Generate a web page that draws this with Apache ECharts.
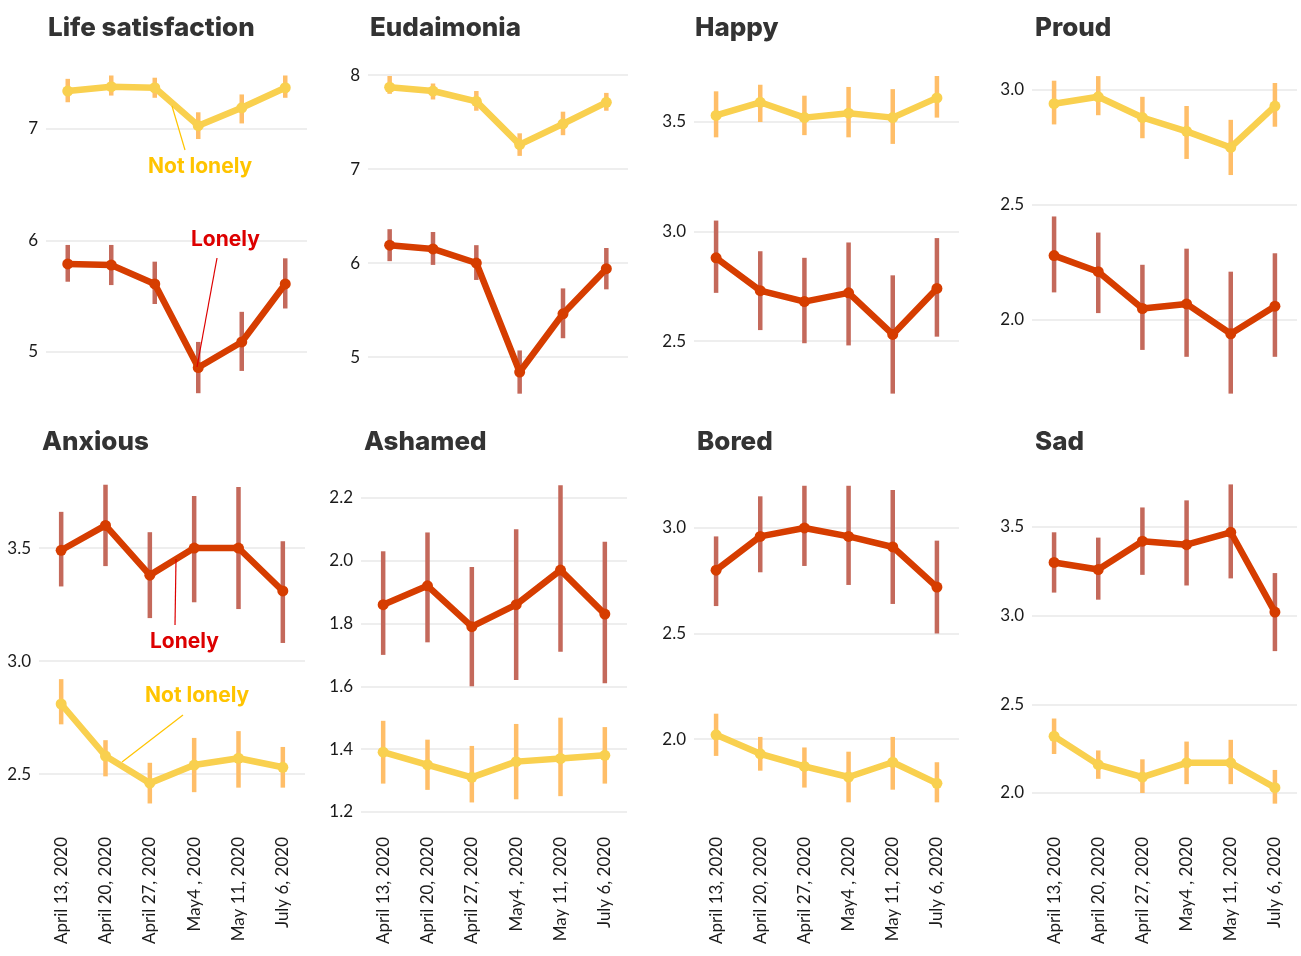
<!DOCTYPE html>
<html>
<head>
<meta charset="utf-8">
<script src="https://cdn.jsdelivr.net/npm/echarts@6/dist/echarts.min.js"></script>
<style>
html,body{margin:0;padding:0;background:#fff;}
#main{width:1301px;height:956px;}
</style>
</head>
<body>
<div id="main"></div>
<script>
// ---------- DATA ----------
const dates = ["April 13, 2020", "April 20, 2020", "April 27, 2020", "May4 , 2020", "May 11, 2020", "July 6, 2020"];
const panelTitles = ["Life satisfaction", "Eudaimonia", "Happy", "Proud", "Anxious", "Ashamed", "Bored", "Sad"];

// Life satisfaction
const lifeTicks = [5, 6, 7];
const lifeNot = [7.34, 7.38, 7.37, 7.03, 7.19, 7.37];
const lifeNotLow = [7.24, 7.30, 7.28, 6.91, 7.05, 7.28];
const lifeNotHigh = [7.45, 7.48, 7.46, 7.15, 7.31, 7.48];
const lifeLonely = [5.79, 5.78, 5.61, 4.86, 5.09, 5.61];
const lifeLonelyLow = [5.63, 5.60, 5.43, 4.63, 4.83, 5.39];
const lifeLonelyHigh = [5.96, 5.96, 5.81, 5.09, 5.36, 5.84];

// Eudaimonia
const eudTicks = [5, 6, 7, 8];
const eudNot = [7.87, 7.83, 7.72, 7.26, 7.48, 7.71];
const eudNotLow = [7.80, 7.74, 7.62, 7.14, 7.36, 7.62];
const eudNotHigh = [7.99, 7.91, 7.83, 7.38, 7.61, 7.81];
const eudLonely = [6.19, 6.15, 6.00, 4.84, 5.46, 5.94];
const eudLonelyLow = [6.02, 5.98, 5.82, 4.61, 5.20, 5.72];
const eudLonelyHigh = [6.36, 6.33, 6.19, 5.07, 5.73, 6.16];

// Happy
const happyTicks = [2.5, 3.0, 3.5];
const happyNot = [3.53, 3.59, 3.52, 3.54, 3.52, 3.61];
const happyNotLow = [3.43, 3.50, 3.44, 3.43, 3.40, 3.52];
const happyNotHigh = [3.64, 3.67, 3.62, 3.66, 3.65, 3.71];
const happyLonely = [2.88, 2.73, 2.68, 2.72, 2.53, 2.74];
const happyLonelyLow = [2.72, 2.55, 2.49, 2.48, 2.26, 2.52];
const happyLonelyHigh = [3.05, 2.91, 2.88, 2.95, 2.80, 2.97];

// Proud
const proudTicks = [2.0, 2.5, 3.0];
const proudNot = [2.94, 2.97, 2.88, 2.82, 2.75, 2.93];
const proudNotLow = [2.85, 2.89, 2.79, 2.70, 2.63, 2.84];
const proudNotHigh = [3.04, 3.06, 2.97, 2.93, 2.87, 3.03];
const proudLonely = [2.28, 2.21, 2.05, 2.07, 1.94, 2.06];
const proudLonelyLow = [2.12, 2.03, 1.87, 1.84, 1.68, 1.84];
const proudLonelyHigh = [2.45, 2.38, 2.24, 2.31, 2.21, 2.29];

// Anxious
const anxTicks = [2.5, 3.0, 3.5];
const anxNot = [2.81, 2.58, 2.46, 2.54, 2.57, 2.53];
const anxNotLow = [2.72, 2.49, 2.37, 2.42, 2.44, 2.44];
const anxNotHigh = [2.92, 2.65, 2.55, 2.66, 2.69, 2.62];
const anxLonely = [3.49, 3.60, 3.38, 3.50, 3.50, 3.31];
const anxLonelyLow = [3.33, 3.42, 3.19, 3.26, 3.23, 3.08];
const anxLonelyHigh = [3.66, 3.78, 3.57, 3.73, 3.77, 3.53];

// Ashamed
const ashTicks = [1.2, 1.4, 1.6, 1.8, 2.0, 2.2];
const ashNot = [1.39, 1.35, 1.31, 1.36, 1.37, 1.38];
const ashNotLow = [1.29, 1.27, 1.23, 1.24, 1.25, 1.29];
const ashNotHigh = [1.49, 1.43, 1.41, 1.48, 1.50, 1.47];
const ashLonely = [1.86, 1.92, 1.79, 1.86, 1.97, 1.83];
const ashLonelyLow = [1.70, 1.74, 1.60, 1.62, 1.71, 1.61];
const ashLonelyHigh = [2.03, 2.09, 1.98, 2.10, 2.24, 2.06];

// Bored
const boredTicks = [2.0, 2.5, 3.0];
const boredNot = [2.02, 1.93, 1.87, 1.82, 1.89, 1.79];
const boredNotLow = [1.92, 1.85, 1.77, 1.70, 1.76, 1.70];
const boredNotHigh = [2.12, 2.01, 1.96, 1.94, 2.01, 1.89];
const boredLonely = [2.80, 2.96, 3.00, 2.96, 2.91, 2.72];
const boredLonelyLow = [2.63, 2.79, 2.82, 2.73, 2.64, 2.50];
const boredLonelyHigh = [2.96, 3.15, 3.20, 3.20, 3.18, 2.94];

// Sad
const sadTicks = [2.0, 2.5, 3.0, 3.5];
const sadNot = [2.32, 2.16, 2.09, 2.17, 2.17, 2.03];
const sadNotLow = [2.22, 2.08, 2.00, 2.05, 2.05, 1.94];
const sadNotHigh = [2.42, 2.24, 2.19, 2.29, 2.30, 2.13];
const sadLonely = [3.30, 3.26, 3.42, 3.40, 3.47, 3.02];
const sadLonelyLow = [3.13, 3.09, 3.23, 3.17, 3.21, 2.80];
const sadLonelyHigh = [3.47, 3.44, 3.61, 3.65, 3.74, 3.24];

// ---------- LAYOUT / STYLE ----------
const panels = [
  {ticks: lifeTicks, dec: 0, min: 4.587, max: 7.619, left: 46, width: 261, top: 60, height: 338, tx: 48, ty: 15,
   not: [lifeNot, lifeNotLow, lifeNotHigh], lon: [lifeLonely, lifeLonelyLow, lifeLonelyHigh]},
  {ticks: eudTicks, dec: 0, min: 4.564, max: 8.16, left: 368, width: 260, top: 60, height: 338, tx: 370, ty: 15,
   not: [eudNot, eudNotLow, eudNotHigh], lon: [eudLonely, eudLonelyLow, eudLonelyHigh]},
  {ticks: happyTicks, dec: 1, min: 2.240, max: 3.783, left: 694, width: 265, top: 60, height: 338, tx: 695, ty: 15,
   not: [happyNot, happyNotLow, happyNotHigh], lon: [happyLonely, happyLonelyLow, happyLonelyHigh]},
  {ticks: proudTicks, dec: 1, min: 1.661, max: 3.130, left: 1032, width: 265, top: 60, height: 338, tx: 1035, ty: 15,
   not: [proudNot, proudNotLow, proudNotHigh], lon: [proudLonely, proudLonelyLow, proudLonelyHigh]},
  {ticks: anxTicks, dec: 1, min: 2.319, max: 3.823, left: 39, width: 266, top: 475, height: 340, tx: 42, ty: 429, xl: true,
   not: [anxNot, anxNotLow, anxNotHigh], lon: [anxLonely, anxLonelyLow, anxLonelyHigh]},
  {ticks: ashTicks, dec: 1, min: 1.190, max: 2.273, left: 361, width: 266, top: 475, height: 340, tx: 364, ty: 429, xl: true,
   not: [ashNot, ashNotLow, ashNotHigh], lon: [ashLonely, ashLonelyLow, ashLonelyHigh]},
  {ticks: boredTicks, dec: 1, min: 1.640, max: 3.251, left: 694, width: 265, top: 475, height: 340, tx: 697, ty: 429, xl: true,
   not: [boredNot, boredNotLow, boredNotHigh], lon: [boredLonely, boredLonelyLow, boredLonelyHigh]},
  {ticks: sadTicks, dec: 1, min: 1.876, max: 3.793, left: 1032, width: 265, top: 475, height: 340, tx: 1035, ty: 429, xl: true,
   not: [sadNot, sadNotLow, sadNotHigh], lon: [sadLonely, sadLonelyLow, sadLonelyHigh]}
];

const NOT_LINE = '#F9D04F', NOT_BAR = '#FFBE68';
const LON_LINE = '#D63D00', LON_BAR = '#C4695B';
const FONT = 'Lato, "Open Sans", sans-serif';
const TFONT = 'Inter, Lato, sans-serif';

function errRender(params, api) {
  const x = api.value(0);
  const p1 = api.coord([x, api.value(1)]);
  const p2 = api.coord([x, api.value(2)]);
  return {
    type: 'line',
    shape: {x1: p1[0], y1: p1[1], x2: p2[0], y2: p2[1]},
    style: {stroke: api.visual('color'), lineWidth: 4.5}
  };
}

const grid = [], xAxis = [], yAxis = [], series = [], title = [];
panels.forEach((p, i) => {
  grid.push({left: p.left, width: p.width, top: p.top, height: p.height});
  title.push({text: panelTitles[i], left: p.tx, top: p.ty, padding: 0,
    textStyle: {fontFamily: TFONT, fontSize: 26, fontWeight: 800, color: '#333'}});
  xAxis.push({
    type: 'category', gridIndex: i, data: dates, boundaryGap: true,
    axisLine: {show: false}, axisTick: {show: false}, splitLine: {show: false},
    axisLabel: {show: !!p.xl, rotate: 90, margin: 22, fontSize: 17, color: '#1a1a1a', fontFamily: FONT, interval: 0}
  });
  yAxis.push({
    type: 'value', gridIndex: i, min: p.min, max: p.max,
    axisLine: {show: false},
    axisTick: {show: false, customValues: p.ticks},
    axisLabel: {customValues: p.ticks, fontSize: 17, color: '#1a1a1a', fontFamily: FONT, margin: 8,
      formatter: v => Number(v).toFixed(p.dec)},
    splitLine: {show: true, lineStyle: {color: '#eeeeee', width: 2}}
  });
  const groups = [[p.not, NOT_LINE, NOT_BAR], [p.lon, LON_LINE, LON_BAR]];
  groups.forEach(([arr, lc, bc]) => {
    series.push({
      type: 'custom', xAxisIndex: i, yAxisIndex: i, z: 1,
      renderItem: errRender, itemStyle: {color: bc},
      encode: {x: 0, y: [1, 2]},
      data: dates.map((d, k) => [k, arr[1][k], arr[2][k]]),
      silent: true, animation: false
    });
    series.push({
      type: 'line', xAxisIndex: i, yAxisIndex: i, z: 2,
      data: arr[0], symbol: 'circle', symbolSize: 11,
      lineStyle: {color: lc, width: 6.5}, itemStyle: {color: lc},
      silent: true, animation: false
    });
  });
});

// annotations
const annText = (x, y, t, c) => ({type: 'text', x: x, y: y, z: 100,
  style: {text: t, fill: c, font: 'bold 21px ' + TFONT, textVerticalAlign: 'middle', textAlign: 'left'}});
const annLine = (x1, y1, x2, y2, c) => ({type: 'line', z: 100,
  shape: {x1, y1, x2, y2}, style: {stroke: c, lineWidth: 1.2}});
const NOT_TXT = '#FFC400', LON_TXT = '#DD0000';
const graphic = [
  annLine(185, 150, 172, 106, NOT_TXT),
  annText(148, 167, 'Not lonely', NOT_TXT),
  annLine(217, 258, 197, 367, LON_TXT),
  annText(191, 240, 'Lonely', LON_TXT),
  annLine(176, 559, 175, 625, LON_TXT),
  annText(150, 642, 'Lonely', LON_TXT),
  annLine(183, 715, 122, 762, NOT_TXT),
  annText(145, 696, 'Not lonely', NOT_TXT)
];

const chart = echarts.init(document.getElementById('main'), null, {renderer: 'canvas'});
chart.setOption({
  backgroundColor: '#fff', animation: false,
  title, grid, xAxis, yAxis, series, graphic
});
</script>
</body>
</html>
